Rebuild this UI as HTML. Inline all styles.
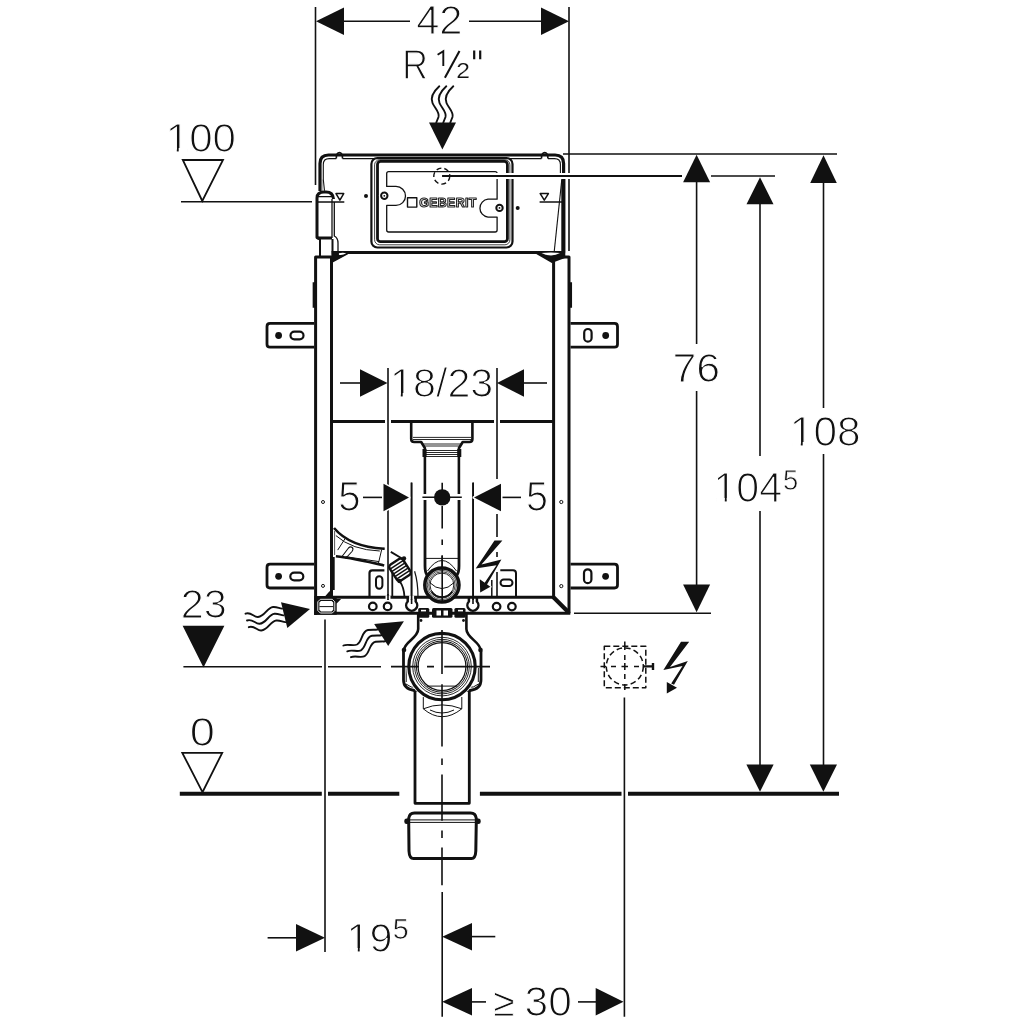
<!DOCTYPE html>
<html><head><meta charset="utf-8">
<style>
html,body{margin:0;padding:0;background:#fff;width:1024px;height:1024px;overflow:hidden}
svg{display:block;will-change:transform}
text{font-family:"Liberation Sans",sans-serif;fill:#111;stroke:#fff;paint-order:normal}
</style></head><body>
<svg width="1024" height="1024" viewBox="0 0 1024 1024">
<g fill="none" stroke="#111" stroke-linecap="butt">
<!-- ===== DIMENSIONS ===== -->
<g id="dims" stroke-width="1.6">
  <!-- 42 -->
  <line x1="315.5" y1="7" x2="315.5" y2="185"/>
  <line x1="569" y1="7" x2="569" y2="251"/>
  <line x1="344" y1="21.3" x2="410" y2="21.3"/>
  <line x1="469" y1="21.3" x2="541" y2="21.3"/>
  <!-- 100 level line -->
  <line x1="181" y1="201.8" x2="312" y2="201.8"/>
  <!-- top right horizontals -->
  <line x1="563" y1="154" x2="837" y2="154"/>
  <line x1="442" y1="176" x2="682" y2="176"/>
  <line x1="711" y1="176" x2="775" y2="176"/>
  <!-- 76 -->
  <line x1="696.6" y1="182" x2="696.6" y2="344"/>
  <line x1="696.6" y1="391" x2="696.6" y2="585"/>
  <line x1="574" y1="613.3" x2="711" y2="613.3"/>
  <!-- 104.5 -->
  <line x1="760" y1="204" x2="760" y2="456"/>
  <line x1="760" y1="511" x2="760" y2="765"/>
  <!-- 108 -->
  <line x1="823.5" y1="182" x2="823.5" y2="408"/>
  <line x1="823.5" y1="454" x2="823.5" y2="765"/>
  <!-- 18/23 -->
  <line x1="340" y1="383" x2="360" y2="383"/>
  <line x1="388" y1="368" x2="388" y2="600"/>
  <line x1="497" y1="368" x2="497" y2="479"/>
  <line x1="524" y1="383" x2="547" y2="383"/>
  <!-- 5 / 5 -->
  <line x1="363" y1="497.4" x2="384" y2="497.4"/>
  <line x1="411.5" y1="482.5" x2="411.5" y2="600"/>
  <line x1="473.2" y1="482.5" x2="473.2" y2="600"/>
  <line x1="501" y1="497.4" x2="521" y2="497.4"/>
  <!-- 23 level -->
  <line x1="183.4" y1="666.8" x2="322" y2="666.8"/>
  <line x1="328" y1="666.8" x2="381" y2="666.8"/>
  <!-- vertical ext 325 -->
  <line x1="325" y1="619.5" x2="325" y2="952"/>
  <line x1="442.2" y1="892" x2="442.2" y2="1016.7"/>
  <line x1="624.4" y1="697.6" x2="624.4" y2="1016.7"/>
  <!-- 19.5 -->
  <line x1="267.6" y1="937.8" x2="296" y2="937.8"/>
  <line x1="472" y1="936.6" x2="495.3" y2="936.6"/>
  <!-- >=30 -->
  <line x1="472" y1="1001.9" x2="486" y2="1001.9"/>
  <line x1="578" y1="1001.9" x2="596" y2="1001.9"/>
</g>
<!-- floor line -->
<g stroke-width="4">
  <line x1="179.8" y1="793.7" x2="321.8" y2="793.7"/>
  <line x1="328" y1="793.7" x2="399.3" y2="793.7"/>
  <line x1="479.9" y1="793.7" x2="621.5" y2="793.7"/>
  <line x1="628" y1="793.7" x2="839" y2="793.7"/>
</g>
<!-- arrowheads -->
<g fill="#111" stroke="none">
  <path d="M316,21.3 L344,7.5 L344,35.1Z"/>
  <path d="M569,21.3 L541,7.5 L541,35.1Z"/>
  <path d="M442.4,149.6 L429,122.6 L456,122.6Z"/>
  <path d="M696.6,154.8 L683.1,182.2 L710.1,182.2Z"/>
  <path d="M760,177.3 L746.5,204.3 L773.5,204.3Z"/>
  <path d="M823.5,155.2 L810.2,183 L836.8,183Z"/>
  <path d="M696.6,612.2 L683.1,584.6 L710.1,584.6Z"/>
  <path d="M760,791.8 L746.4,764.5 L773.6,764.5Z"/>
  <path d="M823.4,791.8 L809.8,764.5 L837,764.5Z"/>
  <path d="M387.5,383.0 L360.0,369.2 L360.0,396.8Z"/>
  <path d="M497.0,383.0 L524.0,369.2 L524.0,396.8Z"/>
  <path d="M409.0,497.5 L383.5,483.7 L383.5,511.3Z"/>
  <path d="M474.0,497.5 L501.0,483.7 L501.0,511.3Z"/>
  <path d="M325.0,937.8 L296.0,924.0 L296.0,951.5Z"/>
  <path d="M442.2,936.8 L472.0,923.0 L472.0,950.5Z"/>
  <path d="M442.2,1001.8 L472.0,988.0 L472.0,1015.5Z"/>
  <path d="M623.5,1001.8 L595.7,988.0 L595.7,1015.5Z"/>
  <path d="M203.5,667.5 L182.6,625.8 L224.4,625.8Z"/>
</g>
<!-- hollow level triangles -->
<g stroke-width="1.8" stroke-linejoin="miter">
  <path d="M202.3,201 L182.8,160 L223,160Z"/>
  <path d="M202.5,792.2 L182.3,752.8 L222.2,752.8Z"/>
</g>
</g>
<g fill="none" stroke="#111" stroke-linecap="butt" stroke-linejoin="round">
<!-- top housing outer -->
<path stroke-width="3.2" d="M320,191 L320,163.5 Q320,155 328.5,155 L555.1,155 Q563.6,155 563.6,163.5 L563.6,252.8"/>
<path stroke-width="1.1" d="M324.5,190.8 L323.3,179.5 L323.3,164.5 Q323.3,158.6 329.2,158.6 L336.3,158.6 M342.5,158.6 L541.5,158.6 M547.9,158.6 L554.5,158.6 Q560.4,158.6 560.4,164.5 L560.4,173"/>
<path stroke-width="0.9" stroke="#666" d="M322,179.5 L322,191"/>
<!-- bumps -->
<path stroke-width="1.6" d="M336.3,158.6 Q336.3,152.6 339.4,152.6 Q342.5,152.6 342.5,158.6 M541.5,158.6 Q541.5,152.6 544.7,152.6 Q547.9,152.6 547.9,158.6"/>
<!-- right side lower thin diagonal -->
<path stroke-width="1.1" d="M561.8,179.6 L553.6,257.5"/>
<path stroke-width="4" d="M563.3,179 L563.3,257"/>
<!-- housing bottom line -->
<path stroke-width="3" d="M333,260 L347,252.5 L536.6,252.5 L553,262"/>
<path fill="#111" stroke="none" d="M331.5,251 L348,251 L348,254.2 L332.3,262.8 Z M536,251 L565,251 L565,258 L553,262.5 Z"/>
<path fill="#fff" stroke="none" d="M338.8,253.3 Q343,252.3 346.3,253.3 Q342.5,255.6 338.8,254.8 Z M541.5,253 Q551,251.8 560,253 Q556,255.2 551,255.4 Q545,255.4 541.5,253 Z"/>
<!-- left bracket in housing -->
<path stroke-width="3" d="M320.4,239 L317,237.6 L317,198 Q317,192 324,192 L326,192 Q333,192 333.5,199"/>
<path stroke-width="1.3" d="M318,196.6 L332,196.6 M332,199 L332,238 M334.3,202 L334.3,236 Q338,238 338,243 L338,255"/>
<path stroke-width="3" d="M317.5,238 L332,238"/>
<path stroke-width="2" d="M320,239 L320,256 M332.5,239 L332.5,256"/>
<!-- level markers -->
<path stroke-width="1.5" d="M336,193.6 L343.7,193.6 L339.9,200.1Z M540.2,193.6 L548.4,193.6 L544.3,200.1Z"/>
<path stroke-width="1.3" d="M318,202 L344.3,202 M539.6,202 L563,202"/>
<!-- dots -->
<circle cx="366" cy="196" r="2" fill="#111" stroke="none"/>
<circle cx="517.7" cy="208" r="2" fill="#111" stroke="none"/>
<!-- control box -->
<rect x="371.4" y="158" width="141.1" height="89.5" rx="6" stroke-width="2.2"/>
<rect x="374.6" y="159.8" width="135.3" height="85" rx="5" stroke-width="0.8"/>
<rect x="377.5" y="161.4" width="129.9" height="80.3" rx="3" stroke-width="2.8"/>
<path stroke-width="1.3" d="M386.7,186.4 L386.7,173.5 Q386.7,171.6 388.7,171.6 L495.1,171.6 Q497.1,171.6 497.1,173.6 L497.1,199.2 L488,199.2 A9,9 0 0 0 488,217.1 L497.1,217.1 L497.1,230 Q497.1,232 495.1,232 L388.7,232 Q386.7,232 386.7,230 L386.7,205.4 L396,205.4 A9.5,9.5 0 0 0 396,186.4 Z"/>
<circle cx="384.3" cy="195.8" r="5.4" fill="#fff" stroke="none"/>
<circle cx="499.5" cy="207.9" r="5.4" fill="#fff" stroke="none"/>
<circle cx="384.3" cy="195.8" r="3.2" stroke-width="2"/>
<circle cx="499.5" cy="207.9" r="3.2" stroke-width="2"/>
<circle cx="384.3" cy="195.8" r="0.9" fill="#111" stroke="none"/>
<circle cx="499.5" cy="207.9" r="0.9" fill="#111" stroke="none"/>
<rect x="407.5" y="197.7" width="9.3" height="9.4" stroke-width="1.4"/>
<circle cx="441.8" cy="176.1" r="8" stroke-width="1.4" stroke-dasharray="5 3"/>
<path stroke-width="6" stroke="#fff" d="M452,176 L682,176"/>
<path stroke-width="2" d="M442.3,176 L682,176"/>
<!-- columns -->
<path stroke-width="3" d="M315.6,615 L315.6,257 L331.5,257 L331.5,596"/>
<path stroke-width="3" d="M553.6,597.4 L553.6,257 L569,257 L569,613.2"/>
<path stroke-width="2.5" d="M313.9,282.3 L313.9,307.8 M570.8,282.3 L570.8,307.8"/>
<!-- bottom rail -->
<path stroke-width="3" d="M314.2,613.2 L570.3,613.2"/>
<path stroke-width="3" d="M331.5,597.2 L553.6,597.2"/>
<path stroke-width="4.2" d="M553.2,597 L568,611.8"/>

<path fill="#111" stroke="none" d="M314.3,596 L336.7,596 L336.7,599 L341.1,599 L336.7,603.4 L336.7,614.7 L317,614.7 Q314.3,614.7 314.3,612 Z M329.5,591.2 L333,591.2 L333,597 L324.5,597 Z"/>
<path fill="none" stroke="#fff" stroke-width="0.9" d="M317.8,601.8 L320.3,599.3 L332.3,599.3 L334.8,601.8 L334.8,610.5 L332.3,613 L320.3,613 L317.8,610.5 Z"/>
<path fill="#fff" stroke="none" d="M319.4,602.5 L321,600.9 L331.6,600.9 L333.2,602.5 L333.2,609.8 L331.6,611.4 L321,611.4 L319.4,609.8 Z"/>
<path stroke-width="1" d="M319.4,606.6 L333.2,606.6"/>
<circle cx="323" cy="585.9" r="1.5" stroke-width="1"/>
<circle cx="561.3" cy="586.1" r="1.6" stroke-width="1"/>
<circle cx="323" cy="502" r="1.5" stroke-width="1"/>
<circle cx="561.3" cy="502" r="1.6" stroke-width="1"/>
<!-- middle divider -->
<path stroke-width="3" d="M331.5,421.5 L385,421.5 M391,421.5 L494,421.5 M500,421.5 L553.6,421.5"/>
<!-- brackets -->
<path stroke-width="2.8" d="M314.1,323.4 L270,323.4 Q267,323.4 267,326.4 L267,344.2 Q267,347.2 270,347.2 L314.1,347.2"/>
<path stroke-width="2.8" d="M570.5,323.4 L614.5,323.4 Q617.5,323.4 617.5,326.4 L617.5,344.2 Q617.5,347.2 614.5,347.2 L570.5,347.2"/>
<path stroke-width="2.8" d="M314.1,564.2 L270,564.2 Q267,564.2 267,567.2 L267,585 Q267,588 270,588 L314.1,588"/>
<path stroke-width="2.8" d="M570.5,564.2 L614.5,564.2 Q617.5,564.2 617.5,567.2 L617.5,585 Q617.5,588 614.5,588 L570.5,588"/>
<g fill="#111" stroke="none">
<circle cx="278.6" cy="335.5" r="3.4"/><circle cx="605.7" cy="335.5" r="3.4"/>
<circle cx="278.6" cy="576.3" r="3.4"/><circle cx="605.6" cy="576.3" r="3.4"/>
</g>
<rect x="290.5" y="331.6" width="13" height="7.8" rx="3.9" stroke-width="2.2"/>
<rect x="584.2" y="329" width="7.4" height="12.6" rx="3.7" stroke-width="2.2"/>
<rect x="290.3" y="572.6" width="13" height="7.8" rx="3.9" stroke-width="2.2"/>
<rect x="584" y="569.3" width="7.4" height="13.8" rx="3.7" stroke-width="2.2"/>
</g>
<g fill="none" stroke="#111" stroke-linecap="butt" stroke-linejoin="round">
<!-- GEBERIT logo -->
<text x="419.2" y="207" font-size="12.6" font-weight="bold" textLength="57.4" lengthAdjust="spacingAndGlyphs" style="fill:#fff;stroke:#222;stroke-width:1.1px;font-family:'Liberation Sans',sans-serif;letter-spacing:0.3px">GEBERIT</text>
<!-- flush pipe connector -->
<path stroke-width="2.6" d="M411.2,421.5 L411.2,439 Q411.2,442 414.2,442 L421.2,442 L424.9,448.2 L424.9,494 M472.4,421.5 L472.4,439 Q472.4,442 469.4,442 L462.7,442 L458.9,448.2 L458.9,494"/>
<path stroke-width="0.9" d="M413,437.4 L471,437.4 M413,439.5 L471,439.5 M422.5,444 L461.5,444 M423.5,446 L460.5,446 M425,450.5 L459,450.5 M425,452.5 L459,452.5 M425,454.5 L459,454.5 M425,456.5 L459,456.5"/>
<path stroke-width="4" d="M424.5,449 L424.5,457 M459.3,449 L459.3,457"/>
<!-- pipe lower -->
<path stroke-width="2.8" d="M425,500 L425,566 Q425,572 427,575 M459,500 L459,566 Q459,572 457,575"/>
<path stroke-width="1" d="M425,558.4 L459,558.4"/>
<!-- crosshair -->
<path stroke-width="1.6" d="M422.4,497.3 L461.8,497.3 M442.2,482.7 L442.2,490 M442.2,506 L442.2,528.6 M442.2,539.6 L442.2,545 M442.2,555.5 L442.2,601.3"/>
<circle cx="442.2" cy="497.4" r="8.2" fill="#111" stroke="none"/>
<!-- elbow circle -->
<path stroke-width="1" d="M427.5,571 Q442,550 456.5,571"/>
<circle cx="441.9" cy="585" r="17.1" stroke-width="3.5" fill="#fff"/>
<circle cx="441.9" cy="585" r="14.7" stroke-width="0.75"/>
<circle cx="441.9" cy="585" r="13.2" stroke-width="0.75"/>
<circle cx="441.9" cy="585" r="11.9" stroke-width="0.9"/>
<path stroke-width="1.6" d="M431.5,591.5 A12.4,12.4 0 0 0 452.3,591.5"/>
<path stroke-width="1" d="M429.6,582.5 Q442,594.7 454.2,582.5"/>
<path stroke-width="1.6" d="M442.2,555.5 L442.2,603"/>
<!-- lever handle -->
<path stroke-width="2.6" d="M334,528 Q350,547 384.7,548.8 M335.9,556.3 Q352,558 384.2,565.5"/>
<path stroke-width="1" d="M335.9,535.6 Q352,550 379.8,551 M345.6,556.7 L379,561.6 M381.7,549.5 L378.5,563 M337.7,550.1 L345.6,537.8"/>
<path stroke-width="1.1" d="M342,556.5 L348.5,548 Q350.5,546 352.3,547.5 Q353.8,549 352,551.5 L345.5,558.5"/>
<path stroke-width="1" stroke="#555" d="M334.6,531 L334.6,555"/>
<path stroke-width="2.2" d="M333.6,557 L333.6,590"/>
<!-- valve small bracket -->
<path stroke-width="2.2" d="M369.5,597 L369.5,573 Q369.5,570.3 372.2,570.3 L384.4,570.3"/>
<rect x="376" y="576.2" width="6.4" height="12.6" rx="3.2" stroke-width="2"/>
<!-- coil -->
<g transform="translate(400,569.8) rotate(-33)">
<rect x="-8" y="-9.5" width="16" height="19" rx="3" stroke-width="2.4"/>
<path stroke-width="1.5" d="M-8,-6 L8,-6 M-8,-3 L8,-3 M-8,0 L8,0 M-8,3 L8,3 M-8,6 L8,6"/>
</g>
<circle cx="404" cy="558.5" r="2.2" fill="#111" stroke="none"/>
<circle cx="399.5" cy="581" r="2.2" fill="#111" stroke="none"/>
<path stroke-width="1.8" d="M390.8,551.9 L402,558.5 M399.5,581 Q404,587 404.5,597 M392.3,572 L392.3,597"/>
<path stroke-width="1.2" d="M414.6,571.2 Q418,582 418,597"/>
<path stroke="#fff" stroke-width="5" d="M388,595.6 L388,599.2"/>
<path stroke-width="1.6" d="M388,594 L388,600"/>
<path stroke="#fff" stroke-width="5" d="M411.6,595.6 L411.6,599.2"/>
<!-- right small bracket -->
<path stroke-width="2" d="M500.3,570.3 L513,570.3 Q516,570.3 516,573.3 L516,597"/>
<rect x="500.5" y="579.4" width="12" height="6.6" rx="3.3" stroke-width="2"/>
<path stroke-width="1.5" d="M491.8,580 L491.8,597"/>
<!-- ext line circles -->
<path stroke-width="2.5" d="M407.7,597.4 L407.7,601.5 A5.5,5.5 0 1 0 415.7,601.5 L415.7,597.4"/>
<path stroke-width="2.5" d="M468.9,597.4 L468.9,601.5 A5.5,5.5 0 1 0 476.9,601.5 L476.9,597.4"/>
<circle cx="372.8" cy="606.4" r="3.8" stroke-width="2.2"/>
<circle cx="387.6" cy="606.4" r="3.8" stroke-width="2.2"/>
<circle cx="496.6" cy="606.6" r="3.8" stroke-width="2.2"/>
<circle cx="511.9" cy="606.6" r="3.8" stroke-width="2.2"/>
<path stroke-width="1.6" d="M411.6,482.7 L411.6,604 M473,482.7 L473,604"/>
<!-- lightning bolt -->
<path fill="#111" stroke="#fff" stroke-width="2.4" paint-order="stroke" d="M494.5,540.6 L502.4,540.6 L481.5,564.6 L501.4,559.4 L487,584.5 L484.5,583 L496.5,565.3 L475.7,568.6 Z M480.2,592.5 L479.8,579.2 L490.4,586.7 Z"/>
<!-- clamp bar -->
<g fill="#111" stroke="none">
<rect x="418.2" y="608" width="11.1" height="9.8" rx="1.5"/>
<rect x="432" y="608" width="20.5" height="9.8" rx="1.5"/>
<rect x="454.4" y="608" width="11.1" height="9.8" rx="1.5"/>
</g>
<g fill="#fff" stroke="none">
<rect x="436.5" y="610.5" width="4.5" height="5"/>
<rect x="443.5" y="610.5" width="4.5" height="5"/>
<rect x="421" y="609.8" width="5" height="1.6"/>
<rect x="458" y="609.8" width="5" height="1.6"/>
</g>
<path stroke-width="1.6" d="M497,514 L497,537 M497,552 L497,557 M497,572 L497,598"/>
<g fill="#111" stroke="#fff" stroke-width="3" paint-order="stroke">
  <path d="M409,497.5 L383.5,483.7 L383.5,511.3Z"/>
  <path d="M474,497.5 L501,483.7 L501,511.3Z"/>
</g>
</g>
<g fill="none" stroke="#111" stroke-linecap="butt" stroke-linejoin="round">
<!-- drain bracket -->
<path stroke-width="2.8" d="M403.5,651 L403.5,680 Q403.5,689 414.5,690.5 L420,690.5 M481,651 L481,680 Q481,689 470,690.5 L464,690.5"/>
<circle cx="404" cy="650" r="2.3" fill="#111" stroke="none"/>
<circle cx="480.5" cy="650" r="2.3" fill="#111" stroke="none"/>
<circle cx="421" cy="620.5" r="1.4" fill="#111" stroke="none"/>
<circle cx="463.5" cy="620.5" r="1.4" fill="#111" stroke="none"/>
<path stroke-width="1" d="M406.2,668 L406.2,682 M478.3,668 L478.3,682 M406,684 Q411,688.5 417,687 M478.5,684 Q473.5,688.5 467.5,687"/>
<!-- lower pipe -->
<path stroke-width="2.8" d="M415,690.5 L415,803.3 L469.3,803.3 L469.3,690.5"/>
<path stroke-width="1" d="M423.3,697 L423.3,708.8 M461.8,697 L461.8,708.8 M423.3,708.8 Q442,701 461.8,708.8 M423.3,708.8 Q442,724.6 461.8,708.8 M430,710 Q442,716 454,710"/>
<!-- big circle -->
<circle cx="442" cy="666.6" r="35.3" stroke-width="1" stroke="#fff" fill="#fff"/>
<circle cx="442" cy="666.6" r="33.2" stroke-width="3.1"/>
<circle cx="442" cy="666.6" r="29.3" stroke-width="0.9"/>
<circle cx="442" cy="666.6" r="27.3" stroke-width="0.9"/>
<circle cx="442" cy="666.6" r="25.6" stroke-width="1"/>
<circle cx="442" cy="666.6" r="23.9" stroke-width="1.2"/>
<path stroke-width="1" d="M427,686.1 L457,686.1"/>
<path stroke-width="2.6" d="M418.2,613 L418.2,629 C418.2,638 404,642 404,650 M466.4,613 L466.4,629 C466.4,638 480.5,642 480.5,650"/>
<!-- center lines -->
<path stroke-width="1.6" d="M391,666.6 L419,666.6 M427,666.6 L434,666.6 M444.2,666.6 L490,666.6"/>
<path stroke-width="1.6" d="M442,630 L442,674 M442,684.3 L442,746.6 M442,758.4 L442,764.9 M442,774.5 L442,820.7 M442,830.4 L442,837.9 M442,847.6 L442,885.2"/>
<!-- cap -->
<path stroke-width="3" d="M408.7,821 L408.7,818.5 Q409.2,813 414.5,812.9 L470.5,812.9 Q475.8,813 476.3,818.5 L476.3,821 M408.7,821 L409,851 Q409.3,858.5 413.5,858.5 L471.5,858.5 Q475.5,858.5 475.8,851 L476.3,821"/>
<path stroke-width="1" d="M409,819.9 L476,819.9 M409,822.4 L476,822.4"/>
<rect x="404.3" y="818.4" width="5.2" height="5.6" rx="2.3" fill="#111" stroke="none"/>
<rect x="475.5" y="818.4" width="5.2" height="5.6" rx="2.3" fill="#111" stroke="none"/>
<!-- electrical box symbol -->
<rect x="604.3" y="646.2" width="41.5" height="41.5" stroke-width="1.5" stroke-dasharray="6 3"/>
<circle cx="624.8" cy="666.4" r="18.5" stroke-width="1.5" stroke-dasharray="5.5 3.2"/>
<path stroke-width="1.5" d="M600.5,666.4 L606,666.4 M611,666.4 L616,666.4 M621.5,666.4 L628,666.4 M634,666.4 L639,666.4 M624.8,641.5 L624.8,650 M624.8,655 L624.8,660 M624.8,663 L624.8,670 M624.8,674 L624.8,679 M624.8,684 L624.8,690"/>
<path stroke-width="2.4" d="M644,666.4 L654,666.4 M653,663 L653,670"/>
<path fill="#111" stroke="none" d="M681,641.8 L689.2,641.8 L670,667 L687.8,660.9 L674,684.8 L671.2,683.4 L682.5,666 L663.4,670 Z M666.8,693.6 L666.8,681.9 L677,687.7 Z"/>
<!-- wavy arrows -->
<g stroke-width="1.9" stroke-linecap="round">
<path d="M245.5,613.7 C251,611.5 254,617.5 258,617 C265,616.5 267,607.5 273,607 C277,606.7 279,608.3 282,608.6"/>
<path d="M247,620.5 C252.5,618.3 255.5,624.3 259.5,623.8 C266.5,623.3 268.5,614.3 274.5,613.8 C278.5,613.5 280.5,615.1 283.5,615.4"/>
<path d="M248.8,627.2 C254.3,625 257.3,631 261.3,630.5 C268.3,630 270.3,621 276.3,620.5 C280.3,620.2 282.3,621.8 285.3,622.1"/>
<path d="M343.4,645.5 C348,643.5 353,646.5 357,644.5 C362.5,641.5 361.5,631 368,630 C372,629.5 375,630 377.5,629.5"/>
<path d="M347.3,651.3 C351.9,649.3 356.9,652.3 360.9,650.3 C366.4,647.3 365.4,636.8 371.9,635.8 C375.9,635.3 378.9,635.8 381.4,635.3"/>
<path d="M351,657.2 C355.6,655.2 360.6,658.2 364.6,656.2 C370.1,653.2 369.1,642.7 375.6,641.7 C379.6,641.2 382.6,641.7 385.1,641.2"/>
<path d="M439.3,86.3 C433,92 430.5,98 432.5,103 C434.5,108 440,112 438.5,117 L436.3,122.5"/>
<path d="M446.3,86.3 C440,92 437.5,98 439.5,103 C441.5,108 447,112 445.5,117 L443.3,122.5"/>
<path d="M453.3,86.3 C447,92 444.5,98 446.5,103 C448.5,108 454,112 452.5,117 L450.3,122.5"/>
</g>
<g fill="#111" stroke="none">
<path d="M281,602.3 L310,608.9 L287.3,628 Z"/>
<path d="M374.2,623.9 L403.9,621.2 L388.2,646.1 Z"/>
</g>
</g>
<g fill="none" stroke="#111" stroke-linecap="butt">
<path stroke-width="1.9" d="M437.6,54.8 L443.3,51.2 L443.3,65.9"/>
<path stroke-width="2.05" d="M444.9,77.8 L459.5,51"/>
<path stroke-width="2.2" d="M474.2,50.5 L474.2,59.3 M480.2,50.5 L480.2,59.3"/>
</g>

<g>
<text transform="matrix(1.04348 0 0 1.03571 416.16 34.20)" font-size="40" style="stroke-width:1.1543">42</text>
<text transform="matrix(0.88983 0 0 1.05435 402.25 78.80)" font-size="40" style="stroke-width:1.2345">R</text>
<text transform="matrix(0.61538 0 0 0.57143 456.27 78.30)" font-size="40" style="stroke-width:0.3370">2</text>
<text transform="matrix(1.05305 0 0 1.03169 165.74 151.99)" font-size="40" style="stroke-width:1.1512">100</text>
<text transform="matrix(1.03145 0 0 1.02041 390.11 397.49)" font-size="40" style="stroke-width:1.1697">18/23</text>
<text transform="matrix(1.00526 0 0 1.05000 338.29 510.58)" font-size="40" style="stroke-width:1.1677">5</text>
<text transform="matrix(0.98947 0 0 1.05714 526.02 510.58)" font-size="40" style="stroke-width:1.1727">5</text>
<text transform="matrix(1.07108 0 0 1.03521 672.46 382.09)" font-size="40" style="stroke-width:1.1394">76</text>
<text transform="matrix(1.03035 0 0 1.05634 713.41 501.88)" font-size="40" style="stroke-width:1.1501">104</text>
<text transform="matrix(0.68526 0 0 0.74714 783.04 490.46)" font-size="40" style="stroke-width:1.0053">5</text>
<text transform="matrix(1.06129 0 0 1.04930 789.82 445.88)" font-size="40" style="stroke-width:1.1371">108</text>
<text transform="matrix(1.03431 0 0 1.03873 180.63 618.28)" font-size="40" style="stroke-width:1.1577">23</text>
<text transform="matrix(1.13158 0 0 1.03169 189.69 745.79)" font-size="40" style="stroke-width:1.1094">0</text>
<text transform="matrix(1.03535 0 0 1.01761 346.49 952.39)" font-size="40" style="stroke-width:1.1690">19</text>
<text transform="matrix(0.71684 0 0 0.75071 392.79 938.56)" font-size="40" style="stroke-width:0.9812">5</text>
<text transform="matrix(0.96392 0 0 0.98750 493.39 1015.85)" font-size="40" style="stroke-width:0.9224">≥</text>
<text transform="matrix(1.06280 0 0 1.07394 524.60 1016.17)" font-size="40" style="stroke-width:1.1232">30</text>

</g>
<g fill="#fff" stroke="none">
<rect x="168.5" y="148.0" width="8.3" height="5.2"/>
<rect x="178.7" y="148.0" width="8.8" height="5.2"/>
<rect x="392.5" y="393.0" width="8.3" height="5.2"/>
<rect x="402.7" y="393.0" width="8.8" height="5.2"/>
<rect x="716.5" y="498.0" width="8.3" height="5.2"/>
<rect x="726.7" y="498.0" width="7.8" height="5.2"/>
<rect x="792.5" y="442.0" width="8.3" height="5.2"/>
<rect x="802.7" y="442.0" width="8.8" height="5.2"/>
<rect x="349.5" y="948.0" width="8.3" height="5.2"/>
<rect x="359.7" y="948.0" width="7.8" height="5.2"/>
</g>
</svg>
</body></html>
